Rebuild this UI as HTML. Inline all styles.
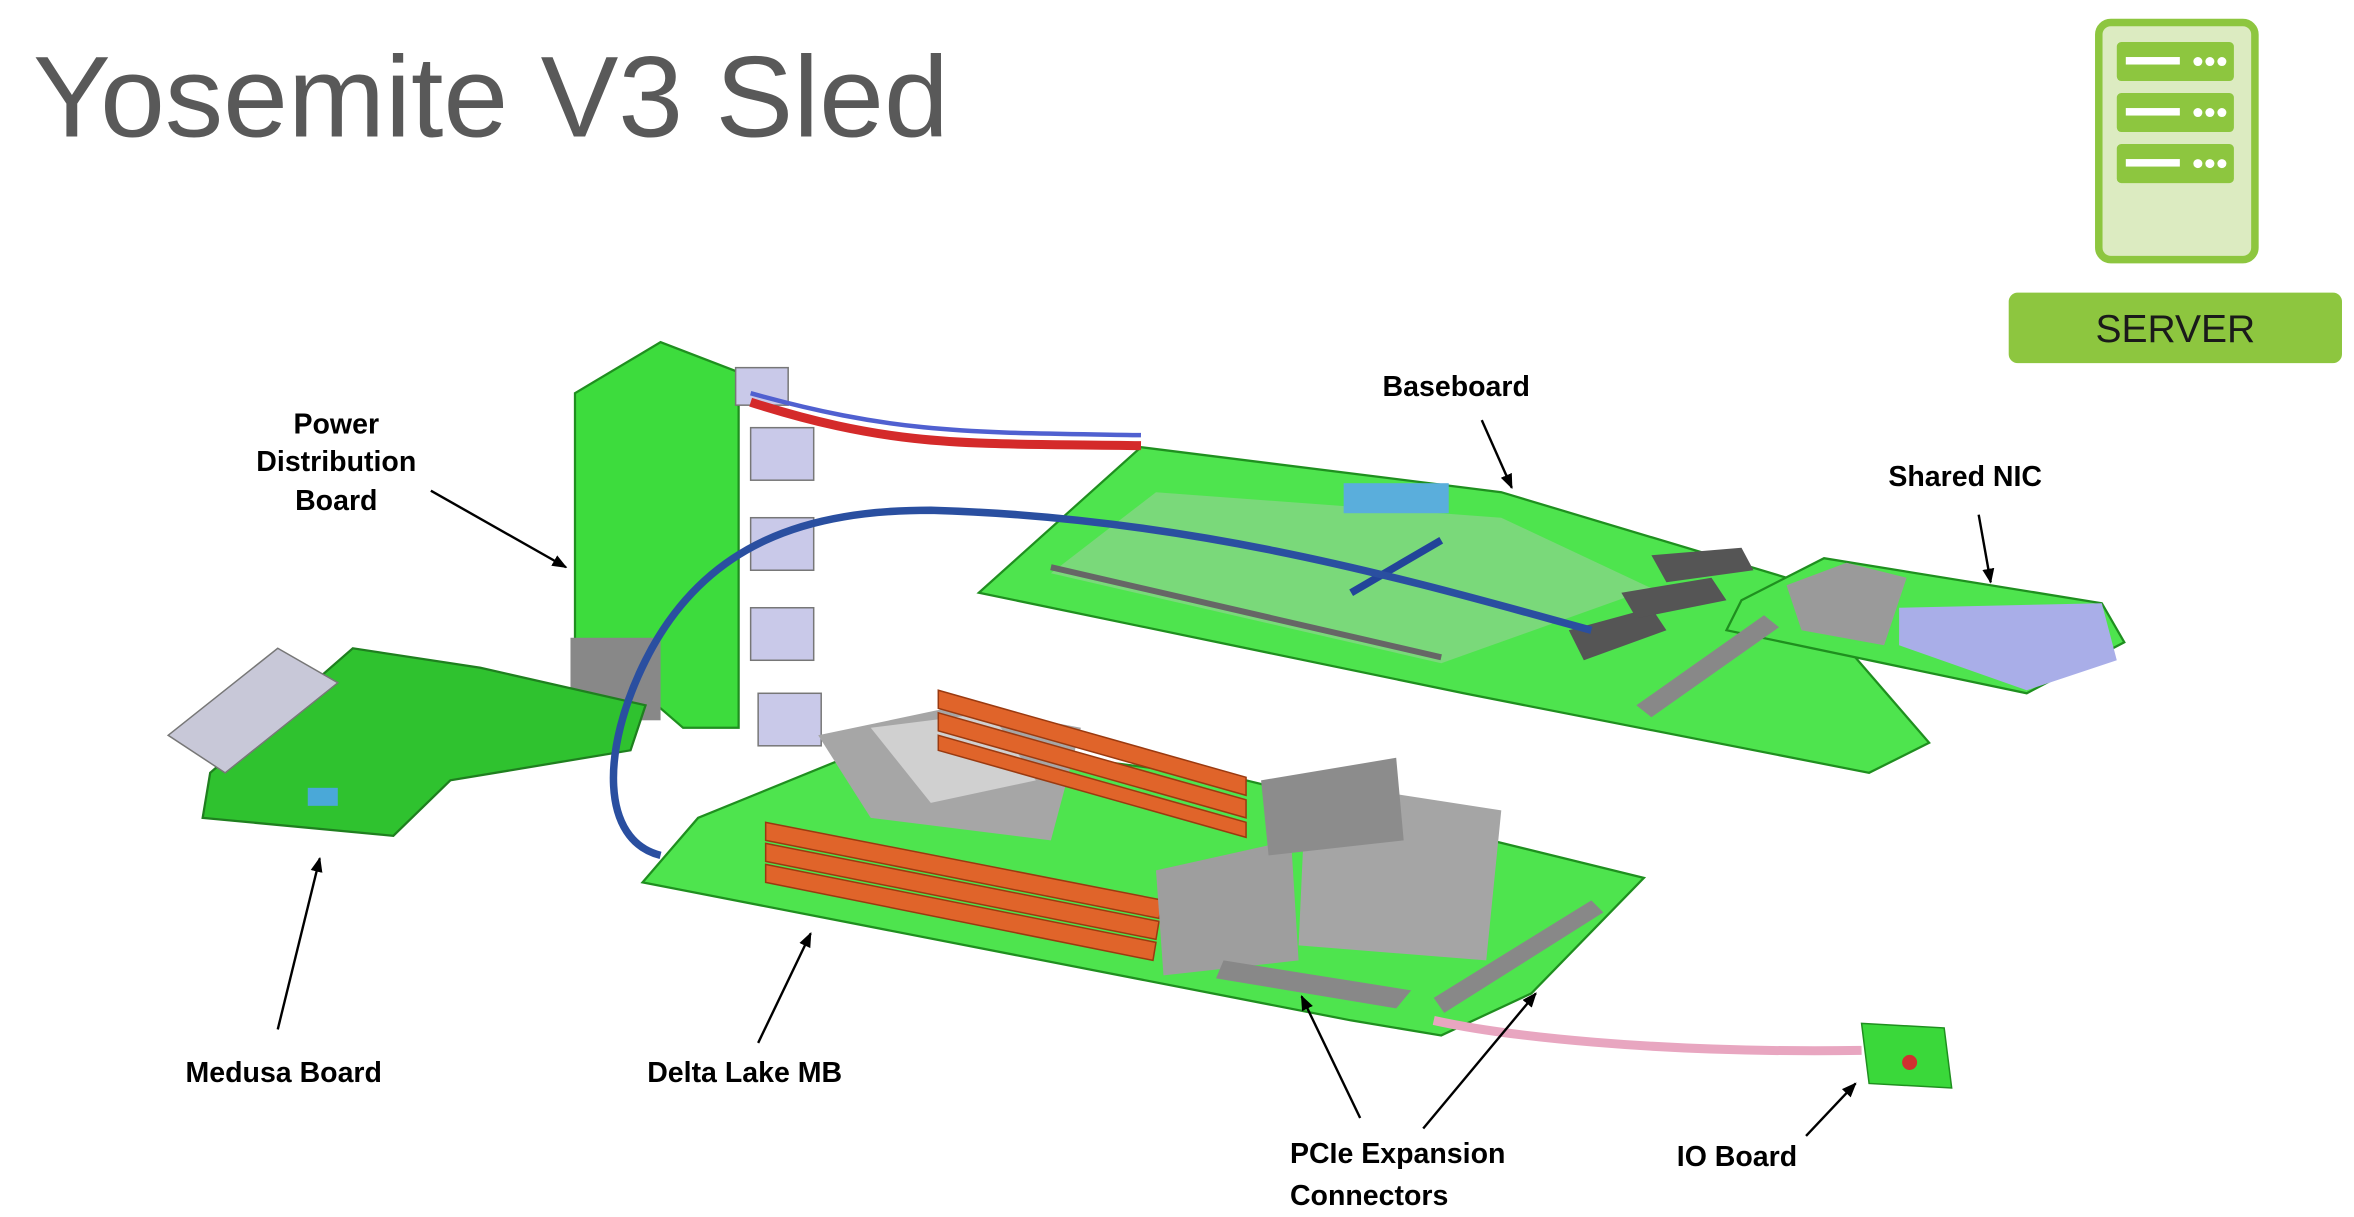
<!DOCTYPE html>
<html><head><meta charset="utf-8"><style>
html,body{margin:0;padding:0;background:#fff;}
svg{display:block}
</style></head><body>
<svg width="2354" height="1217" viewBox="0 0 1568 811" preserveAspectRatio="none" xmlns="http://www.w3.org/2000/svg">
<defs>
<marker id="ah" markerWidth="10" markerHeight="10" refX="9" refY="5" orient="auto" markerUnits="userSpaceOnUse"><path d="M0,1 L10,5 L0,9 z" fill="#000"/></marker>
</defs>
<text x="22" y="91" font-family="Liberation Sans, sans-serif" font-size="77" fill="#595959" textLength="610" lengthAdjust="spacingAndGlyphs">Yosemite V3 Sled</text>

<!-- server icon -->
<rect x="1398" y="15" width="104" height="158" rx="8" fill="#dcebc1" stroke="#8dc63f" stroke-width="5"/>
<g fill="#8dc63f"><rect x="1410" y="28" width="78" height="26" rx="3"/><rect x="1410" y="62" width="78" height="26" rx="3"/><rect x="1410" y="96" width="78" height="26" rx="3"/></g>
<g fill="#fff"><rect x="1416" y="38" width="36" height="5"/><rect x="1416" y="72" width="36" height="5"/><rect x="1416" y="106" width="36" height="5"/>
<circle cx="1464" cy="41" r="3"/><circle cx="1472" cy="41" r="3"/><circle cx="1480" cy="41" r="3"/>
<circle cx="1464" cy="75" r="3"/><circle cx="1472" cy="75" r="3"/><circle cx="1480" cy="75" r="3"/>
<circle cx="1464" cy="109" r="3"/><circle cx="1472" cy="109" r="3"/><circle cx="1480" cy="109" r="3"/></g>
<rect x="1338" y="195" width="222" height="47" rx="6" fill="#8dc63f"/>
<text x="1449" y="228" text-anchor="middle" font-family="Liberation Sans, sans-serif" font-size="26" fill="#1a1a1a">SERVER</text>

<!-- baseboard -->
<polygon points="652,395 760,298 1000,328 1190,385 1285,495 1245,515 975,462" fill="#4ee44e" stroke="#1f8f1f" stroke-width="1.5"/>
<polygon points="700,382 770,328 1000,345 1100,392 960,442" fill="#7ad97a"/>
<polygon points="1160,400 1215,372 1400,402 1415,428 1350,462 1150,420" fill="#4ee44e" stroke="#1f8f1f" stroke-width="1.5"/>
<polygon points="1190,390 1230,375 1270,385 1255,430 1200,420" fill="#9a9a9a"/>
<polygon points="1265,405 1400,402 1410,440 1350,460 1265,430" fill="#a9aee8"/>
<rect x="895" y="322" width="70" height="20" fill="#5aaedc"/>
<g fill="#555"><polygon points="1045,420 1100,405 1110,420 1055,440"/><polygon points="1080,395 1140,385 1150,400 1090,412"/><polygon points="1100,370 1160,365 1168,380 1110,388"/></g>
<polygon points="1090,470 1175,410 1185,418 1100,478" fill="#888"/>
<line x1="700" y1="378" x2="960" y2="438" stroke="#666" stroke-width="4"/>
<line x1="900" y1="395" x2="960" y2="360" stroke="#224499" stroke-width="5"/>

<!-- PDB -->
<polygon points="383,262 440,228 492,248 492,485 455,485 440,472 383,440" fill="#3ddc3d" stroke="#1f8f1f" stroke-width="1.5"/>
<g fill="#c9c9e9" stroke="#777"><rect x="490" y="245" width="35" height="25"/><rect x="500" y="285" width="42" height="35"/><rect x="500" y="345" width="42" height="35"/><rect x="500" y="405" width="42" height="35"/><rect x="505" y="462" width="42" height="35"/></g>
<rect x="380" y="425" width="60" height="55" fill="#888"/>

<!-- Medusa -->
<polygon points="135,545 140,515 235,432 320,445 430,470 420,500 300,520 262,557" fill="#2fc22f" stroke="#1f7f1f" stroke-width="1.5"/>
<polygon points="112,490 185,432 225,455 150,515" fill="#c8c8d8" stroke="#777"/>
<rect x="205" y="525" width="20" height="12" fill="#4aa8d8"/>

<!-- Delta Lake MB -->
<polygon points="428,588 465,545 600,490 830,520 1095,585 1020,662 960,690 900,680" fill="#4ee44e" stroke="#1f8f1f" stroke-width="1.5"/>
<polygon points="545,490 640,470 720,485 700,560 580,545" fill="#a6a6a6"/>
<polygon points="580,485 660,475 690,520 620,535" fill="#d0d0d0"/>
<g fill="#e0642a" stroke="#9a3a10"><polygon points="625,460 830,518 830,530 625,472"/><polygon points="625,475 830,533 830,545 625,487"/><polygon points="625,490 830,548 830,558 625,500"/>
<polygon points="510,548 775,600 772,612 510,560"/><polygon points="510,562 772,614 770,626 510,574"/><polygon points="510,576 770,628 768,640 510,588"/></g>
<polygon points="770,580 860,560 865,640 775,650" fill="#9e9e9e"/>
<polygon points="870,520 1000,540 990,640 865,630" fill="#a5a5a5"/>
<polygon points="840,520 930,505 935,560 845,570" fill="#8c8c8c"/>
<polygon points="815,640 940,660 930,672 810,652" fill="#888"/>
<polygon points="955,665 1060,600 1068,608 962,675" fill="#888"/>

<!-- cables -->
<path d="M500,268 C600,300 650,295 760,297" fill="none" stroke="#d42a2a" stroke-width="6"/>
<path d="M500,262 C600,290 650,288 760,290" fill="none" stroke="#5060d0" stroke-width="3"/>
<path d="M440,570 C400,560 400,500 430,440 C470,360 540,340 620,340 C800,345 950,390 1060,420" fill="none" stroke="#2a4fa0" stroke-width="5"/>
<path d="M955,680 C1000,690 1100,702 1240,700" fill="none" stroke="#e8a6c0" stroke-width="6"/>
<polygon points="1240,682 1295,685 1300,725 1245,722" fill="#3ad83a" stroke="#1f8f1f"/>
<circle cx="1272" cy="708" r="5" fill="#d03030"/>

<!-- labels -->
<g font-family="Liberation Sans, sans-serif" font-weight="bold" font-size="19" fill="#000" text-anchor="middle">
<text x="224" y="289">Power</text><text x="224" y="314">Distribution</text><text x="224" y="340">Board</text>
<text x="970" y="264">Baseboard</text>
<text x="1309" y="324">Shared NIC</text>
<text x="189" y="721">Medusa Board</text>
<text x="496" y="721">Delta Lake MB</text>
<text x="931" y="775">PCIe Expansion</text><text x="912" y="803">Connectors</text>
<text x="1157" y="777">IO Board</text>
</g>
<g stroke="#000" stroke-width="1.6" marker-end="url(#ah)">
<line x1="287" y1="327" x2="377" y2="378"/>
<line x1="987" y1="280" x2="1007" y2="325"/>
<line x1="1318" y1="343" x2="1326" y2="388"/>
<line x1="185" y1="686" x2="213" y2="572"/>
<line x1="505" y1="695" x2="540" y2="622"/>
<line x1="906" y1="745" x2="867" y2="664"/>
<line x1="948" y1="752" x2="1023" y2="662"/>
<line x1="1203" y1="757" x2="1236" y2="722"/>
</g>
</svg>
</body></html>
